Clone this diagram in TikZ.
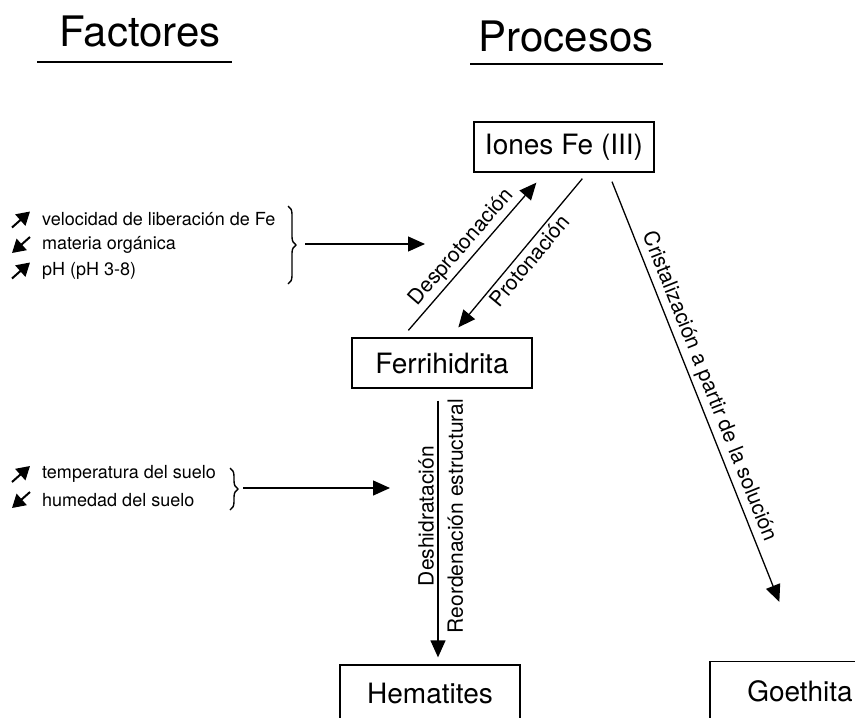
\documentclass[tikz,border=0pt]{standalone}
\usepackage{fontspec}
\setmainfont{TeX Gyre Heros}
\usetikzlibrary{arrows.meta, positioning, calc, decorations.pathreplacing}

\begin{document}
\begin{tikzpicture}[x=1pt, y=-1pt,
    every node/.style={font=\fontsize{18}{20}\selectfont},
    caja/.style={draw, line width=1.3pt, minimum width=180pt,
                 minimum height=50pt, inner sep=10pt,
                 font=\fontsize{28}{32}\selectfont},
    titulo/.style={font=\fontsize{42}{48}\selectfont},
    rotulo/.style={font=\fontsize{21}{24}\selectfont},
    factor/.style={anchor=west, inner sep=0pt},
    marca/.style={line width=2pt, -{Triangle[length=13pt, width=15pt]}},
    flecha/.style={line width=1.3pt, -{Triangle[length=17pt, width=15pt]}},
    llave/.style={decorate, decoration={brace, amplitude=8pt}, line width=1.4pt}]
  \useasboundingbox (0,0) rectangle (855,718);
  \clip (0,0) rectangle (855,718);
  % encabezados
  \node[titulo] (fac) at (140,32) {Factores};
  \node[titulo] (pro) at (566,37) {Procesos};
  \draw[line width=1.3pt] (37,62) -- (232,62);
  \draw[line width=1.3pt] (470,64) -- (663,64);
  % minerales
  \node[caja] (iones) at (564,147) {Iones Fe (III)};
  \node[caja] (ferri) at (442,363) {Ferrihidrita};
  \node[caja, minimum height=56pt] (hema) at (430,693) {Hematites};
  \node[caja, minimum height=59pt] (goe) at (800,691) {Goethita};
  % procesos
  \draw[flecha] ($(ferri.north west)+(57,-7)$)
    -- node[sloped, above, rotulo] {Desprotonación}
    ($(iones.south west)+(63,10)$);
  \draw[flecha] ($(iones.south west)+(109,6)$)
    -- node[sloped, below, rotulo] {Protonación}
    ($(ferri.north west)+(107,-10)$);
  \draw[flecha] ($(iones.south)+(48,9)$)
    -- node[sloped, above, rotulo] {Cristalización a partir de la solución}
    ($(goe.north west)+(70,-59)$);
  \draw[flecha] ($(ferri.south)+(-4,12)$)
    -- node[pos=0.45, rotate=90, anchor=south, rotulo] {Deshidratación}
       node[pos=0.45, rotate=90, anchor=north, inner sep=9pt, rotulo] {Reordenación estructural}
    ($(hema.north)+(8,-7)$);
  % factores (1 = aumenta, -1 = disminuye)
  \foreach \dir/\txt [count=\i] in {1/velocidad de liberación de Fe,
      -1/materia orgánica, 1/pH (pH 3-8)}{%
    \node[factor] (f\i) at (42,194+25.5*\i) {\txt};
    \draw[marca] ($(f\i.west)+(-21-9*\dir,8*\dir)$)
      -- ($(f\i.west)+(-21+9*\dir,-8*\dir)$);}
  \foreach \dir/\txt [count=\i] in {1/temperatura del suelo,
      -1/humedad del suelo}{%
    \node[factor] (t\i) at (42,448+26*\i) {\txt};
    \draw[marca] ($(t\i.west)+(-21-9*\dir,8*\dir)$)
      -- ($(t\i.west)+(-21+9*\dir,-8*\dir)$);}
  \draw[llave] (288,206) -- (288,284);
  \draw[llave] (230,468) -- (230,510);
  \coordinate (v1) at (305,244);
  \coordinate (p1) at (425,244);
  \coordinate (v2) at (243,488);
  \coordinate (p2) at (390,488);
  \draw[flecha] (v1) -- (p1);
  \draw[flecha] (v2) -- (p2);
\end{tikzpicture}
\end{document}
